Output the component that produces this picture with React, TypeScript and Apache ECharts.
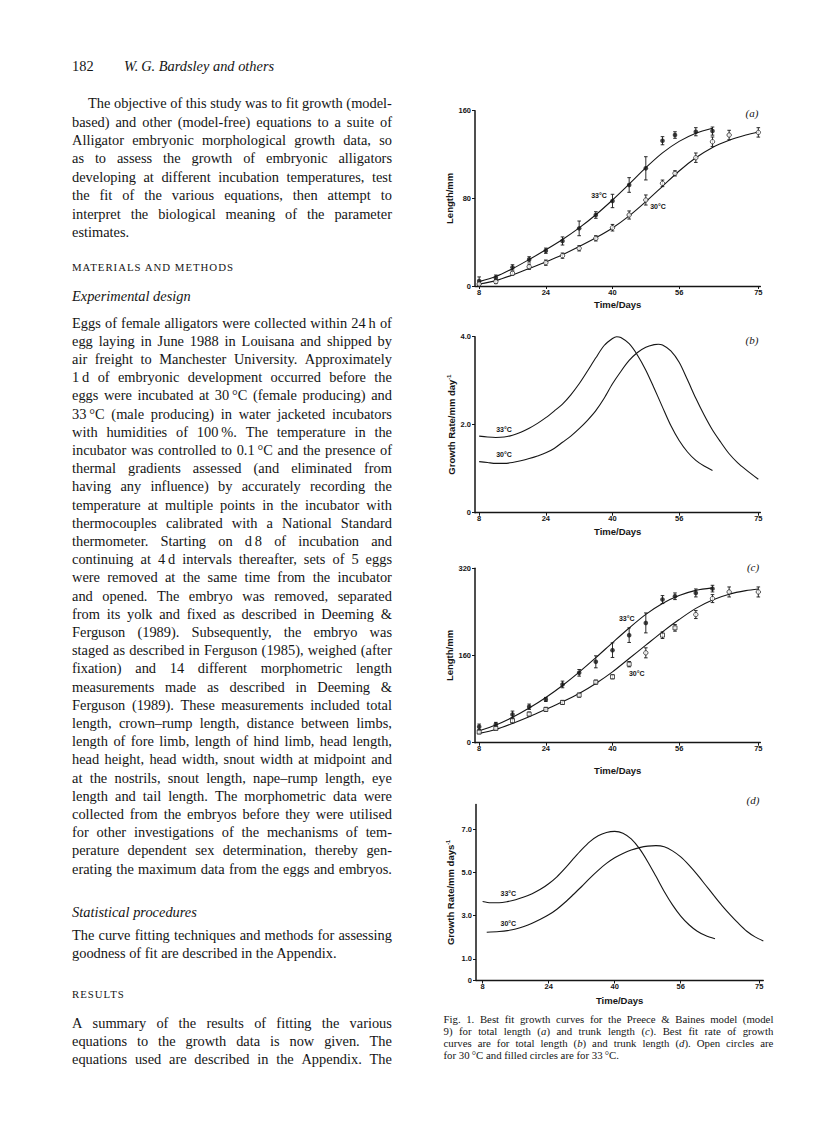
import React, { useEffect, useRef } from "react";
import * as echarts from "echarts";

// ---------------- DATA ----------------
const days33 = [8, 12, 16, 20, 24, 28, 32, 36, 40, 44, 48, 52, 55, 60, 64];
const days30 = [8, 12, 16, 20, 24, 28, 32, 36, 40, 44, 48, 52, 55, 60, 64, 68, 75];
const xTickValues = [8, 24, 40, 56, 75];

// (a) total length, mm
const total33 = [4.6, 7.6, 17, 24.3, 32.2, 41.1, 52.6, 64.8, 77.6, 92.2, 107.4, 132.6, 137.8, 140.8, 141.4];
const total33Err = [3.7, 2.4, 2.4, 2.4, 2.4, 3.7, 6.7, 3, 6.1, 6.7, 10.6, 3.7, 3, 3.7, 3.7];
const total30 = [1.8, 4, 11.6, 17.6, 21.3, 27.7, 34.4, 43.5, 53.2, 64.8, 78.5, 93.7, 102.8, 117.1, 131.7, 137.8, 140.2];
const total30Err = [1.5, 1.8, 1.8, 2.4, 2.4, 2.4, 2.4, 2.4, 3, 3.7, 4.6, 3, 2.4, 4.3, 4.3, 4.3, 4.3];
const totalFit33 = [[8, 4], [12, 8.6], [16, 15.8], [20, 24.2], [24, 33], [28, 42.4], [32, 53], [36, 65], [40, 78.5], [44, 93], [48, 108], [52, 121.5], [56, 132], [60, 139.5], [64, 144]];
const totalFit30 = [[8, 1.8], [12, 4.9], [16, 10], [20, 16], [24, 22], [28, 28.5], [32, 36], [36, 44], [40, 53], [44, 64], [48, 77], [52, 91], [56, 105], [60, 117], [64, 126.5], [68, 133], [72, 137.8], [75, 140.5]];

// (b) growth rate of total length, mm/day
const rateTotal33 = [[8, 1.74], [10, 1.72], [12, 1.71], [14, 1.72], [16, 1.76], [18, 1.83], [20, 1.92], [22, 2.03], [24, 2.16], [26, 2.31], [28, 2.47], [30, 2.68], [32, 2.93], [34, 3.22], [36, 3.52], [38, 3.8], [40, 3.96], [41, 4.0], [42, 3.98], [44, 3.84], [46, 3.58], [48, 3.24], [50, 2.83], [52, 2.4], [54, 1.98], [56, 1.64], [58, 1.38], [60, 1.19], [62, 1.06], [64, 0.96]];
const rateTotal30 = [[8, 1.16], [10, 1.14], [12, 1.12], [14, 1.12], [16, 1.14], [18, 1.18], [20, 1.23], [22, 1.29], [24, 1.36], [26, 1.46], [28, 1.6], [30, 1.74], [32, 1.91], [34, 2.1], [36, 2.32], [38, 2.6], [40, 2.93], [42, 3.21], [44, 3.46], [46, 3.64], [48, 3.76], [50, 3.82], [51, 3.83], [52, 3.81], [54, 3.68], [56, 3.42], [58, 3.02], [60, 2.6], [62, 2.22], [64, 1.88], [66, 1.6], [68, 1.34], [70, 1.14], [72, 0.98], [75, 0.76]];

// (c) trunk length, mm
const trunk33 = [29.3, 33.6, 51.9, 66, 79.4, 106.9, 128.2, 148.4, 169.8, 197.3, 219.8, 262.6, 268.7, 274.8, 282.7];
const trunk33Err = [4.9, 3.7, 6.1, 4.9, 3.7, 6.1, 6.1, 11, 13.4, 13.4, 18.3, 7.3, 6.1, 7.3, 6.1];
const trunk30 = [19.5, 26.3, 40.3, 52.5, 61.1, 73.9, 87.3, 111.1, 120.9, 144.1, 164.9, 197.3, 210.7, 235.1, 264.4, 276.6, 276.6];
const trunk30Err = [3, 3, 3.7, 3.7, 3.7, 3.7, 3.7, 3.7, 3.7, 4.9, 9.2, 6.1, 6.1, 7.3, 7.3, 9.2, 9.2];
const trunkFit33 = [[8, 22], [12, 32.5], [16, 46.5], [20, 63.5], [24, 83], [28, 105], [32, 129.5], [36, 156], [40, 183.5], [44, 210.5], [48, 235.5], [52, 255.5], [56, 270], [60, 279.5], [64, 284]];
const trunkFit30 = [[8, 17.1], [12, 24.4], [16, 35.4], [20, 47.6], [24, 61.1], [28, 75.1], [32, 90.4], [36, 108.7], [40, 130], [44, 154.5], [48, 179], [52, 203.4], [56, 226], [60, 246.5], [64, 262], [68, 272.5], [72, 279], [75, 282]];

// (d) growth rate of trunk length, mm/day
const rateTrunk33 = [[8, 3.66], [10, 3.6], [12, 3.6], [14, 3.65], [16, 3.74], [18, 3.86], [20, 4.02], [22, 4.22], [24, 4.48], [26, 4.8], [28, 5.2], [30, 5.64], [32, 6.06], [34, 6.43], [36, 6.7], [38, 6.85], [40, 6.9], [42, 6.82], [44, 6.55], [46, 6.1], [48, 5.5], [50, 4.82], [52, 4.12], [54, 3.5], [56, 2.98], [58, 2.58], [60, 2.28], [62, 2.08], [64.3, 1.93]];
const rateTrunk30 = [[9, 2.23], [12, 2.27], [14, 2.31], [16, 2.38], [18, 2.5], [20, 2.65], [22, 2.83], [24, 3.04], [26, 3.3], [28, 3.62], [30, 3.98], [32, 4.35], [34, 4.74], [36, 5.1], [38, 5.42], [40, 5.68], [42, 5.88], [44, 6.04], [46, 6.15], [48, 6.22], [50, 6.24], [52, 6.19], [54, 6.0], [56, 5.72], [58, 5.34], [60, 4.9], [62, 4.42], [64, 3.94], [66, 3.47], [68, 3.04], [70, 2.64], [72, 2.28], [74, 2.02], [76, 1.83]];

const yTicksA = [0, 80, 160];
const yTicksB = [0, 2, 4];
const yTicksC = [0, 160, 320];
const yTicksD = [0, 1, 3, 5, 7];

// ---------------- TEXT ----------------
const headerPage = "182";
const headerAuthors = "W.\u2009G. Bardsley and others";
const introLines = [
  "The objective of this study was to fit growth (model-",
  "based) and other (model-free) equations to a suite of",
  "Alligator embryonic morphological growth data, so",
  "as to assess the growth of embryonic alligators",
  "developing at different incubation temperatures, test",
  "the fit of the various equations, then attempt to",
  "interpret the biological meaning of the parameter",
  "estimates.",
];
const methodsHeading = "MATERIALS AND METHODS";
const designHeading = "Experimental design";
const designLines = [
  "Eggs of female alligators were collected within 24\u2009h of",
  "egg laying in June 1988 in Louisana and shipped by",
  "air freight to Manchester University. Approximately",
  "1\u2009d of embryonic development occurred before the",
  "eggs were incubated at 30\u2009°C (female producing) and",
  "33\u2009°C (male producing) in water jacketed incubators",
  "with humidities of 100\u2009%. The temperature in the",
  "incubator was controlled to 0.1\u2009°C and the presence of",
  "thermal gradients assessed (and eliminated from",
  "having any influence) by accurately recording the",
  "temperature at multiple points in the incubator with",
  "thermocouples calibrated with a National Standard",
  "thermometer. Starting on d\u20098 of incubation and",
  "continuing at 4\u2009d intervals thereafter, sets of 5 eggs",
  "were removed at the same time from the incubator",
  "and opened. The embryo was removed, separated",
  "from its yolk and fixed as described in Deeming &",
  "Ferguson (1989). Subsequently, the embryo was",
  "staged as described in Ferguson (1985), weighed (after",
  "fixation) and 14 different morphometric length",
  "measurements made as described in Deeming &",
  "Ferguson (1989). These measurements included total",
  "length, crown\u2013rump length, distance between limbs,",
  "length of fore limb, length of hind limb, head length,",
  "head height, head width, snout width at midpoint and",
  "at the nostrils, snout length, nape\u2013rump length, eye",
  "length and tail length. The morphometric data were",
  "collected from the embryos before they were utilised",
  "for other investigations of the mechanisms of tem-",
  "perature dependent sex determination, thereby gen-",
  "erating the maximum data from the eggs and embryos.",
];
const statsHeading = "Statistical procedures";
const statsLines = [
  "The curve fitting techniques and methods for assessing",
  "goodness of fit are described in the Appendix.",
];
const resultsHeading = "RESULTS";
const resultsLines = [
  "A summary of the results of fitting the various",
  "equations to the growth data is now given. The",
  "equations used are described in the Appendix. The",
];
const captionLines = [
  "Fig. 1. Best fit growth curves for the Preece & Baines model (model",
  "9) for total length (_a_) and trunk length (_c_). Best fit rate of growth",
  "curves are for total length (_b_) and trunk length (_d_). Open circles are",
  "for 30\u2009°C and filled circles are for 33\u2009°C.",
];

// ---------------- STYLE ----------------
const INK = "#151515";
const SANS = "'Liberation Sans', Arial, Helvetica, sans-serif";
const SERIF = "'Liberation Serif', 'Times New Roman', Times, serif";

const errData = (d: number[], v: number[], e: number[]) => d.map((x, i) => [x, v[i] - e[i], v[i] + e[i]]);
const pts = (d: number[], v: number[]) => d.map((x, i) => [x, v[i]]);

function errorBarItem(params: any, api: any) {
  const x = api.value(0);
  const lo = api.value(1);
  const hi = api.value(2);
  const a = api.coord([x, lo]);
  const b = api.coord([x, hi]);
  const cap = 1.8;
  const st = { stroke: INK, lineWidth: 0.9 };
  return {
    type: "group",
    children: [
      { type: "line", shape: { x1: a[0], y1: a[1], x2: b[0], y2: b[1] }, style: st },
      { type: "line", shape: { x1: a[0] - cap, y1: a[1], x2: a[0] + cap, y2: a[1] }, style: st },
      { type: "line", shape: { x1: b[0] - cap, y1: b[1], x2: b[0] + cap, y2: b[1] }, style: st },
    ],
  };
}

const tickFont = { fontFamily: SANS, fontWeight: "bold" as const, fontSize: 7.5, color: INK };
const nameFont = {
  fontFamily: SANS, fontWeight: "bold" as const, fontSize: 9.5, color: INK,
  rich: { sup: { fontFamily: SANS, fontWeight: "bold" as const, fontSize: 5.5, color: INK, verticalAlign: "top" as const, padding: [0, 0, 5, 0] } },
};

function makeX(i: number, min: number, max: number, gap: number) {
  return {
    type: "value", gridIndex: i, min, max,
    axisLine: { show: true, onZero: false, lineStyle: { color: INK, width: 1.3 } },
    axisTick: { show: true, customValues: xTickValues, length: 3, lineStyle: { color: INK, width: 1 } },
    axisLabel: { customValues: xTickValues, margin: 2, ...tickFont },
    splitLine: { show: false },
    name: "Time/Days", nameLocation: "middle", nameGap: gap, nameTextStyle: nameFont,
  };
}

function makeY(i: number, max: number, ticks: number[], name: string, gap: number, fmt: (v: number) => string) {
  return {
    type: "value", gridIndex: i, min: 0, max,
    axisLine: { show: true, onZero: false, lineStyle: { color: INK, width: 1.5 } },
    axisTick: { show: true, customValues: ticks, length: 3, lineStyle: { color: INK, width: 1 } },
    axisLabel: { customValues: ticks, margin: 4, formatter: fmt, ...tickFont },
    splitLine: { show: false },
    name, nameLocation: "middle", nameGap: gap, nameTextStyle: nameFont,
  };
}

const intFmt = (v: number) => String(Math.round(v));
const decFmt = (v: number) => (v === 0 ? "0" : v.toFixed(1));

function fitLine(i: number, data: number[][]) {
  return {
    type: "line", xAxisIndex: i, yAxisIndex: i, data, smooth: 0.3,
    symbol: "none", showSymbol: false, silent: true, clip: false,
    lineStyle: { color: INK, width: 1.1 }, z: 3,
  };
}
function errSeries(i: number, data: number[][]) {
  return { type: "custom", xAxisIndex: i, yAxisIndex: i, data, renderItem: errorBarItem, encode: { x: 0, y: [1, 2] }, silent: true, z: 2 };
}
function filled(i: number, data: any[]) {
  return { type: "scatter", xAxisIndex: i, yAxisIndex: i, data, symbol: "circle", symbolSize: 4.6, itemStyle: { color: INK }, silent: true, z: 4 };
}
function open(i: number, data: any[]) {
  return {
    type: "scatter", xAxisIndex: i, yAxisIndex: i, data, symbol: "circle", symbolSize: 4.4,
    itemStyle: { color: "#ffffff", borderColor: INK, borderWidth: 0.9 }, silent: true, z: 5,
  };
}

function label(text: string, x: number, y: number) {
  return {
    type: "text", x, y, silent: true,
    style: { text, fill: INK, font: `bold 7px ${SANS}`, align: "center", verticalAlign: "middle" },
  };
}
function panel(text: string, x: number, y: number) {
  return {
    type: "text", x, y, silent: true,
    style: { text, fill: INK, font: `italic 11px ${SERIF}`, align: "center", verticalAlign: "middle" },
  };
}

function buildOption() {
  const trunk30Points = days30.map((d, i) => ({
    value: [d, trunk30[i]],
    symbol: d <= 56 && d !== 48 ? "rect" : "circle",
    symbolSize: d <= 56 && d !== 48 ? 4 : 4.4,
  }));
  return {
    animation: false,
    backgroundColor: "#ffffff",
    grid: [
      { left: 475, top: 110.7, width: 285.4, height: 175.3 },
      { left: 475, top: 336.7, width: 285.4, height: 176 },
      { left: 475, top: 568.3, width: 285.4, height: 174.4 },
      { left: 476, top: 804.4, width: 287.3, height: 176.1 },
    ],
    xAxis: [makeX(0, 7, 75.5, 13), makeX(1, 7, 75.5, 14), makeX(2, 7, 75.5, 23), makeX(3, 6.4, 76, 14.5)],
    yAxis: [
      makeY(0, 160, yTicksA, "Length/mm", 19, intFmt),
      makeY(1, 4, yTicksB, "Growth Rate/mm day{sup|-1}", 14.5, decFmt),
      makeY(2, 320, yTicksC, "Length/mm", 21, intFmt),
      makeY(3, 8.15, yTicksD, "Growth Rate/mm days{sup|-1}", 20, decFmt),
    ],
    series: [
      errSeries(0, errData(days33, total33, total33Err)),
      errSeries(0, errData(days30, total30, total30Err)),
      fitLine(0, totalFit33),
      fitLine(0, totalFit30),
      filled(0, pts(days33, total33)),
      open(0, pts(days30, total30)),

      fitLine(1, rateTotal33),
      fitLine(1, rateTotal30),

      errSeries(2, errData(days33, trunk33, trunk33Err)),
      errSeries(2, errData(days30, trunk30, trunk30Err)),
      fitLine(2, trunkFit33),
      fitLine(2, trunkFit30),
      filled(2, pts(days33, trunk33)),
      open(2, trunk30Points),

      fitLine(3, rateTrunk33),
      fitLine(3, rateTrunk30),
    ],
    graphic: [
      label("33°C", 599, 195),
      label("30°C", 658, 206.7),
      label("33°C", 504, 429.5),
      label("30°C", 504, 454),
      label("33°C", 626.7, 618.3),
      label("30°C", 636.7, 673.3),
      label("33°C", 508.3, 893),
      label("30°C", 508.3, 923),
      panel("(a)", 752, 113),
      panel("(b)", 752, 340),
      panel("(c)", 753, 566.7),
      panel("(d)", 753, 800),
    ],
  };
}

// ---------------- TEXT RENDERING ----------------
function renderMarked(s: string, key: string) {
  const parts = s.split("_");
  return parts.map((p, i) =>
    i % 2 === 1 ? <i key={key + i}>{p}</i> : <React.Fragment key={key + i}>{p}</React.Fragment>
  );
}

type LineProps = {
  text: string; y: number; x: number; w: number; size: number; lh: number;
  justify?: boolean; style?: React.CSSProperties;
};
function Line({ text, y, x, w, size, lh, justify, style }: LineProps) {
  const base: React.CSSProperties = {
    position: "absolute", left: x, top: y - lh * 0.55, width: w, height: lh,
    lineHeight: lh + "px", fontSize: size, fontFamily: SERIF, color: INK,
    whiteSpace: "nowrap", ...style,
  };
  if (justify) {
    const words = text.split(" ");
    return (
      <div style={{ ...base, display: "flex", justifyContent: "space-between" }}>
        {words.map((wd, i) => (
          <span key={i}>{renderMarked(wd + (i < words.length - 1 ? " " : ""), "w" + i)}</span>
        ))}
      </div>
    );
  }
  return <div style={base}>{renderMarked(text, "t")}</div>;
}

const COL_X = 72;
const COL_W = 320;
const BODY = 14.4;

export default function App() {
  const ref = useRef<HTMLDivElement>(null);
  useEffect(() => {
    if (!ref.current) return;
    const chart = echarts.init(ref.current, undefined, { renderer: "svg", width: 816, height: 1122 });
    chart.setOption(buildOption() as any);
    return () => chart.dispose();
  }, []);

  const lines: React.ReactNode[] = [];
  introLines.forEach((t, i) => {
    const last = i === introLines.length - 1;
    lines.push(
      <Line key={"in" + i} text={t} y={104 + i * 18.4} x={i === 0 ? COL_X + 16 : COL_X} w={i === 0 ? COL_W - 16 : COL_W} size={BODY} lh={18} justify={!last} />
    );
  });
  designLines.forEach((t, i) => {
    lines.push(<Line key={"de" + i} text={t} y={323.5 + i * 18.2} x={COL_X} w={COL_W} size={BODY} lh={18} justify />);
  });
  statsLines.forEach((t, i) => {
    lines.push(<Line key={"st" + i} text={t} y={935.5 + i * 18.5} x={COL_X} w={COL_W} size={BODY} lh={18} justify={i === 0} />);
  });
  resultsLines.forEach((t, i) => {
    lines.push(<Line key={"re" + i} text={t} y={1023.5 + i * 18.3} x={COL_X} w={COL_W} size={BODY} lh={18} justify />);
  });
  captionLines.forEach((t, i) => {
    const last = i === captionLines.length - 1;
    lines.push(<Line key={"ca" + i} text={t} y={1019.5 + i * 11.9} x={443.5} w={330} size={10.8} lh={12} justify={!last} />);
  });

  return (
    <div style={{ position: "absolute", left: 0, top: 0, width: 816, height: 1122, background: "#ffffff", overflow: "hidden" }}>
      <div ref={ref} style={{ position: "absolute", left: 0, top: 0, width: 816, height: 1122 }} />
      <div style={{ position: "absolute", left: 0, top: 0, width: 816, height: 1122, pointerEvents: "none" }}>
        <Line text={headerPage} y={66.5} x={COL_X} w={40} size={14.4} lh={18} />
        <Line text={headerAuthors} y={66.5} x={124} w={200} size={14.4} lh={18} style={{ fontStyle: "italic" }} />
        {lines}
        <Line text={methodsHeading} y={268} x={COL_X} w={COL_W} size={10.8} lh={16} style={{ letterSpacing: 1.0 }} />
        <Line text={designHeading} y={297} x={COL_X} w={COL_W} size={BODY} lh={18} style={{ fontStyle: "italic" }} />
        <Line text={statsHeading} y={913} x={COL_X} w={COL_W} size={BODY} lh={18} style={{ fontStyle: "italic" }} />
        <Line text={resultsHeading} y={995} x={COL_X} w={COL_W} size={10.8} lh={16} style={{ letterSpacing: 1.0 }} />
      </div>
    </div>
  );
}
